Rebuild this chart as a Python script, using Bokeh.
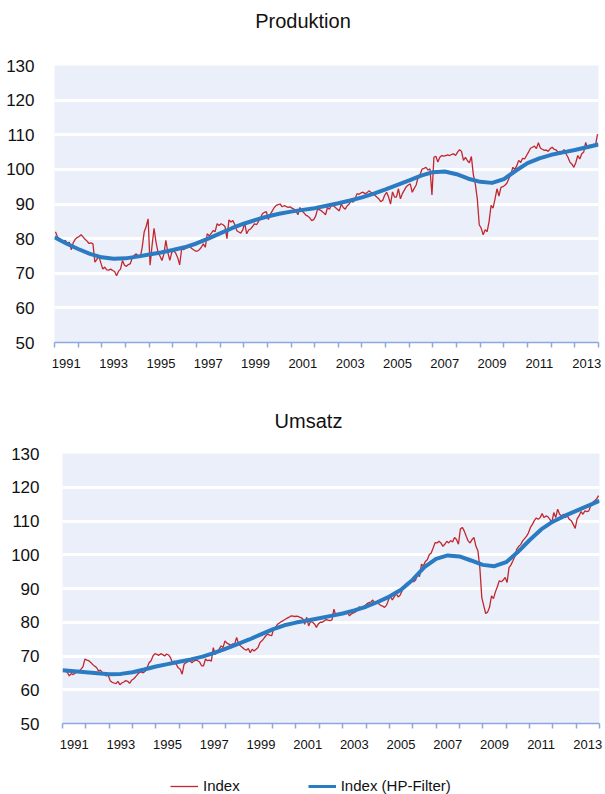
import numpy as np
from bokeh.plotting import figure
from bokeh.models import FixedTicker, Legend, LegendItem, Range1d, Label
from bokeh.embed import file_html
from bokeh.resources import INLINE

FONT = "Liberation Sans"

# ---------------- data ----------------
start_year = 1991
end_year = 2014
year_labels = ["1991", "1993", "1995", "1997", "1999", "2001", "2003",
               "2005", "2007", "2009", "2011", "2013"]
y_ticks = [50, 60, 70, 80, 90, 100, 110, 120, 130]

titles = ["Produktion", "Umsatz"]
legend_labels = ["Index", "Index (HP-Filter)"]

# monthly index values, Jan 1991 - Dec 2013
prod_index = [
    82.0, 80.5, 80.0, 79.5, 79.0, 79.5, 78.5, 79.0, 76.8, 78.8, 79.8, 80.3,
    80.6, 81.1, 80.5, 79.8, 79.3, 78.6, 78.8, 78.5, 73.2, 74.0, 75.0, 73.0,
    71.2, 71.8, 71.0, 70.9, 71.2, 70.8, 70.5, 69.3, 70.6, 71.2, 73.7, 72.3,
    72.0, 72.5, 72.8, 74.6, 75.2, 75.6, 75.0, 74.5, 77.5, 81.9, 83.5, 85.7,
    72.3, 78.0, 83.0, 79.0, 76.1, 75.0, 73.7, 75.5, 79.5, 76.0, 73.7, 76.0,
    76.5, 75.8, 74.5, 72.4, 77.0, 76.8, 77.2, 77.5, 77.8, 77.2, 76.8, 76.4,
    76.4, 76.8, 77.5, 78.5, 77.5, 81.4, 80.8, 81.5, 82.3, 82.0, 84.3, 83.8,
    84.3, 84.0, 83.5, 80.0, 85.4, 84.8, 85.2, 84.0, 82.3, 81.9, 81.6, 82.5,
    84.5, 81.4, 82.5, 82.8, 83.5, 84.3, 84.0, 85.0, 86.0, 87.2, 87.6, 87.8,
    85.5, 87.0, 88.0, 89.0, 89.6, 89.8, 90.0, 89.2, 89.5, 89.3, 89.0, 89.2,
    88.8, 88.5, 88.0, 86.9, 89.0, 88.0, 87.5, 86.8, 86.5, 86.0, 85.2, 85.5,
    86.5, 88.6, 88.3, 88.0, 87.5, 86.9, 89.0, 88.5, 89.6, 89.5, 89.0, 88.5,
    88.0, 90.0, 89.0, 88.5, 89.5, 90.0, 90.9, 90.5, 91.5, 93.0, 92.8, 93.2,
    93.4, 93.0, 93.2, 93.8, 93.4, 93.0, 92.5, 92.0, 91.5, 90.7, 91.0, 92.5,
    93.4, 92.0, 90.0, 93.5, 92.0, 92.0, 94.4, 91.5, 93.0, 94.0, 95.0, 95.5,
    95.8, 93.4, 94.5, 95.5, 97.8, 98.5, 100.1, 100.3, 100.6, 99.8, 100.2, 92.6,
    103.5, 103.8, 102.1, 103.5, 104.0, 103.8, 104.0, 104.2, 104.0, 104.3, 104.5, 104.0,
    105.0, 105.7, 105.2, 102.6, 103.5, 102.5, 101.9, 103.7, 98.5, 95.8, 91.5, 84.0,
    83.0, 81.1, 82.6, 82.0, 85.0, 89.6, 88.8, 91.5, 94.4, 92.3, 94.8, 95.0,
    95.4, 96.0, 97.3, 98.5, 100.6, 100.0, 101.0, 102.6, 102.0, 103.2, 103.0, 104.0,
    105.0, 106.1, 106.4, 106.7, 106.0, 107.7, 106.2, 105.8, 105.5, 105.6, 105.2, 106.0,
    106.4, 105.8, 105.6, 104.9, 105.2, 105.0, 105.7, 104.5, 103.5, 102.1, 101.5, 100.6,
    102.0, 104.0, 103.0, 104.5, 105.0, 107.8, 106.0, 107.0, 106.5, 107.2, 107.0, 110.2,
]

ums_index = [
    65.8, 65.5, 65.1, 64.1, 64.8, 64.5, 64.9, 65.3, 65.5, 66.1, 66.8, 69.1,
    68.8, 68.6, 68.1, 67.5, 67.0, 66.6, 65.6, 65.8, 65.0, 64.5, 64.1, 64.3,
    62.7, 62.2, 62.0, 61.8, 62.5, 61.5, 62.0, 62.3, 62.7, 62.5, 61.9, 62.8,
    63.2, 63.8, 64.5, 65.1, 65.3, 65.0, 65.5, 66.6, 68.0, 68.6, 70.0, 70.7,
    70.5, 70.2, 70.7, 70.4, 70.0, 70.6, 70.3, 69.5, 68.1, 68.5, 67.5, 66.5,
    66.1, 64.6, 67.6, 68.0, 68.3, 68.6, 68.0, 68.5, 68.8, 68.6, 68.2, 67.1,
    67.1, 69.1, 68.6, 68.8, 68.5, 72.5, 70.5, 71.2, 72.0, 73.0, 72.5, 74.5,
    73.8, 73.5, 73.2, 73.6, 73.5, 75.5, 73.5, 73.0, 72.5, 72.0, 71.7, 72.2,
    71.0, 72.0, 71.5, 72.0, 72.5, 74.0, 74.5, 75.2, 76.0, 76.5, 76.2, 76.0,
    78.0, 78.5, 79.4, 79.8, 80.2, 80.5, 80.9, 81.2, 81.5, 81.9, 81.8, 81.7,
    81.8, 81.6, 81.4, 81.0, 79.4, 81.5, 78.9, 80.2, 80.0, 79.5, 78.5, 79.5,
    80.0, 80.0, 80.4, 80.8, 80.6, 80.5, 80.7, 83.9, 82.0, 82.4, 82.6, 82.8,
    82.5, 82.9, 82.9, 81.9, 82.5, 82.8, 83.0, 83.5, 84.6, 84.0, 84.2, 85.0,
    85.5, 85.8, 86.0, 86.6, 85.5, 85.8, 85.5, 85.0, 84.8, 84.4, 85.0, 86.5,
    87.8, 86.6, 87.5, 88.5, 87.5, 88.0, 89.3, 90.5, 91.3, 91.8, 92.0, 92.3,
    92.0, 92.5, 94.3, 93.5, 97.2, 96.7, 98.0, 98.5, 100.0, 100.5, 102.0, 103.6,
    103.5, 104.0, 103.5, 102.5, 103.1, 104.0, 103.5, 104.2, 103.8, 105.1, 104.5, 103.1,
    107.6, 108.1, 107.0, 105.5, 104.1, 103.5, 104.5, 105.1, 102.5, 101.2, 96.2, 87.3,
    84.9, 82.6, 83.0, 84.5, 87.8, 87.0, 89.0, 90.5, 92.3, 92.0, 92.5, 93.3,
    91.8, 96.2, 97.0, 98.2, 99.5, 101.7, 102.5, 103.0, 104.1, 104.8, 105.5, 106.5,
    108.1, 109.0, 110.1, 110.9, 110.5, 111.0, 112.2, 111.0, 111.5, 111.2, 110.5, 109.6,
    112.5, 111.0, 113.5, 112.0, 111.5, 112.0, 111.0, 111.5, 110.5, 110.1, 109.0, 107.8,
    110.6, 111.5, 112.8, 112.0, 113.0, 112.8, 113.0, 114.5, 115.5, 116.0, 116.5, 117.5,
]

# HP-filter trend, read at half-year points 1991.0 ... 2014.0
prod_hp = [
    80.4, 78.6, 77.0, 75.6, 74.6, 74.2, 74.3, 74.8, 75.4, 76.0,
    76.7, 77.5, 78.6, 80.0, 81.5, 83.0, 84.3, 85.4, 86.4, 87.2,
    87.8, 88.3, 88.8, 89.5, 90.2, 91.0, 91.9, 93.0, 94.2, 95.5,
    96.8, 98.2, 99.2, 99.4, 98.6, 97.3, 96.4, 96.1, 97.2, 99.6,
    101.8, 103.2, 104.2, 104.9, 105.6, 106.4, 107.2,
]
ums_hp = [
    65.8, 65.5, 65.2, 64.9, 64.6, 64.7, 65.2, 66.0, 66.9, 67.6,
    68.3, 69.0, 69.8, 70.9, 72.2, 73.5, 74.9, 76.4, 77.9, 79.1,
    79.9, 80.5, 81.2, 81.9, 82.6, 83.5, 84.6, 86.0, 87.6, 89.6,
    92.6, 96.3, 98.8, 99.8, 99.5, 98.3, 97.0, 96.6, 97.8, 100.8,
    104.3, 107.5, 109.8, 111.5, 113.0, 114.5, 116.0,
]

# ---------------- positions ----------------
x_month = start_year + (np.arange(len(prod_index)) + 0.5) / 12.0
x_hp = start_year + np.arange(len(prod_hp)) * 0.5
label_pos = [int(s) + 0.5 for s in year_labels]
year_bounds = list(range(start_year, end_year + 1))

RED = "#C1272D"
BLUE = "#2A7BC1"
BG = "#EBEFFA"
AXIS = "#8EA6E0"
TXT = "#111111"


def strip(height):
    s = figure(width=605, height=height, x_range=Range1d(0, 1), y_range=Range1d(0, 1),
               output_backend="svg", toolbar_location=None, min_border=0,
               x_axis_location=None, y_axis_location=None,
               outline_line_color=None, background_fill_color="white",
               border_fill_color="white")
    s.xgrid.visible = False
    s.ygrid.visible = False
    return s


def title_strip(text, cx):
    s = strip(40)
    s.add_layout(Label(x=cx, y=19.5, x_units="screen", y_units="screen",
                       text=text, text_font=FONT, text_font_size="20px",
                       text_color=TXT, text_align="center",
                       text_baseline="middle"))
    return s


def make_chart(idx, hp, height, left, right, top, bottom, ylab_standoff):
    p = figure(width=605, height=height,
               x_range=Range1d(start_year, end_year), y_range=Range1d(50, 130),
               output_backend="svg", toolbar_location=None,
               min_border_left=left, min_border_right=right,
               min_border_top=top, min_border_bottom=bottom,
               background_fill_color=BG, border_fill_color="white",
               outline_line_color=None)

    # x axis: ticks at year boundaries (minor), labels centred mid-year (major)
    xa = p.xaxis[0]
    xa.ticker = FixedTicker(ticks=label_pos, minor_ticks=year_bounds)
    xa.major_label_overrides = dict(zip(label_pos, year_labels))
    xa.major_tick_out = 0
    xa.major_tick_in = 0
    xa.minor_tick_out = 5
    xa.minor_tick_in = 0
    xa.minor_tick_line_color = AXIS
    xa.axis_line_color = AXIS
    xa.axis_line_width = 1.5
    xa.minor_tick_line_width = 1.5
    xa.major_label_text_font = FONT
    xa.major_label_text_font_size = "13px"
    xa.major_label_text_color = TXT
    xa.major_label_standoff = 11

    ya = p.yaxis[0]
    ya.ticker = FixedTicker(ticks=y_ticks)
    ya.axis_line_color = None
    ya.major_tick_line_color = None
    ya.minor_tick_line_color = None
    ya.major_label_text_font = FONT
    ya.major_label_text_font_size = "17px"
    ya.major_label_text_color = TXT
    ya.major_label_standoff = ylab_standoff

    p.xgrid.grid_line_color = None
    p.ygrid.ticker = FixedTicker(ticks=y_ticks)
    p.ygrid.grid_line_color = "white"
    p.ygrid.grid_line_width = 3

    p.line(x_month, idx, line_color=RED, line_width=1.3)
    p.line(x_hp, hp, line_color=BLUE, line_width=4, line_join="round")
    return p


# page: title 0..40, chart 40..400 (frame 54..598 x 65..342)
#       title 400..440, chart 440..768 (frame 62..599 x 453..723), legend 768..794
t1 = title_strip(titles[0], 302.5)
p1 = make_chart(prod_index, prod_hp, 360, 54, 7, 25, 58, 14)
t2 = title_strip(titles[1], 308)
p2 = make_chart(ums_index, ums_hp, 328, 62, 6, 13, 45, 17)

# legend strip: series drawn far outside its (0..1) ranges, only the legend shows
p3 = strip(26)
ra = p3.line(x_month, prod_index, line_color=RED, line_width=1.3)
rb = p3.line(x_hp, prod_hp, line_color=BLUE, line_width=3)
legend = Legend(items=[LegendItem(label=legend_labels[0], renderers=[ra]),
                       LegendItem(label=legend_labels[1], renderers=[rb])],
                orientation="horizontal", location=(170, 0),
                glyph_width=28, glyph_height=14, label_standoff=5,
                spacing=68, padding=0, margin=0,
                border_line_color=None, background_fill_alpha=0,
                label_text_font=FONT, label_text_font_size="15px",
                label_text_color=TXT)
p3.add_layout(legend, "center")

open("out.html", "w").write(file_html([t1, p1, t2, p2, p3], INLINE))
